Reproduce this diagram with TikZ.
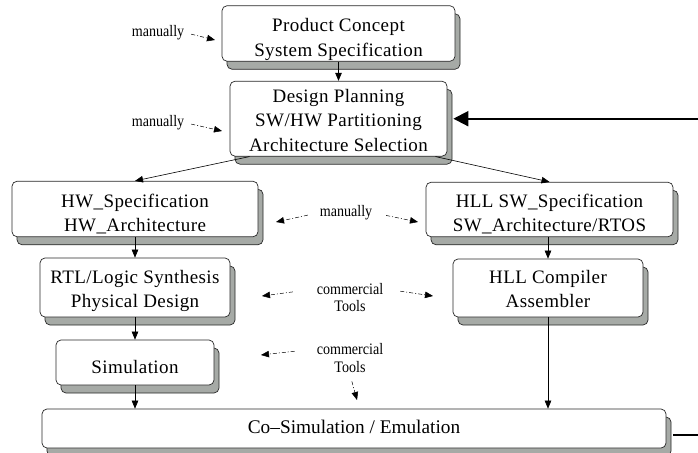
\documentclass[tikz,border=0pt]{standalone}
\usepackage{fontspec}
\setmainfont{Liberation Serif}
\newfontfamily\boxfont[LetterSpace=2.2]{Liberation Serif}
\newfontfamily\notefont[FakeStretch=0.88]{Liberation Serif}
\usetikzlibrary{arrows.meta,shadows,calc}
\definecolor{shadegray}{RGB}{166,170,166}
\definecolor{edge}{RGB}{40,40,40}

\begin{document}
\begin{tikzpicture}[x=1pt,y=-1pt,
  % #1 = height kept above the last baseline (sets where the text sits)
  stage/.style={draw=edge, line width=0.7pt, fill=white, rounded corners=5pt,
    inner sep=0pt, align=center,
    font=\boxfont\fontsize{19}{24.5}\selectfont,
    execute at begin node={\rule{0pt}{#1}},
    execute at end node={\rule[-5pt]{0pt}{0pt}},
    general shadow={shadow xshift=5pt, shadow yshift=-8pt,
      fill=shadegray, draw=edge, line width=0.7pt}},
  stage/.default=26pt,
  note/.style={inner sep=2pt, align=center,
    font=\notefont\fontsize{16}{17.5}\selectfont},
  flow/.style={draw=black, line width=0.6pt, -{Triangle[length=8pt,width=6.5pt]}},
  hint/.style={draw=black, line width=0.5pt,
    dash pattern=on 4pt off 2pt on 1pt off 2pt,
    -{Triangle[length=8pt,width=6.5pt]}},
  feedback/.style={draw=black, line width=2pt, -{Triangle[length=15pt,width=15pt]}}
]
\useasboundingbox (0,0) rectangle (698,452);
\clip (0,0) rectangle (698,452);

% design stages
\node[stage=50.5pt, minimum width=233pt, minimum height=53pt] (concept) at (338.5,33.5)
  {Product Concept\\System Specification};
\node[stage=70pt, minimum width=217pt, minimum height=66pt] (plan) at (338.5,118.7)
  {Design Planning\\SW/HW Partitioning\\Architecture Selection};
\node[stage=50.5pt, minimum width=246pt, minimum height=52pt] (hw) at (135,209)
  {HW\_Specification\\HW\_Architecture};
\node[stage=49.5pt, minimum width=247pt, minimum height=53pt] (sw) at (549.5,209.5)
  {HLL SW\_Specification\\SW\_Architecture/RTOS};
\node[stage=45.5pt, minimum width=190pt, minimum height=59pt] (rtl) at (135,287.5)
  {RTL/Logic Synthesis\\Physical Design};
\node[stage=44.5pt, minimum width=190pt, minimum height=58pt] (comp) at (548,288)
  {HLL Compiler\\Assembler};
\node[stage=26.5pt, minimum width=158pt, minimum height=45pt] (sim) at (135,362.5)
  {Simulation};
\node[stage=14.5pt, minimum width=624pt, minimum height=39pt,
  font=\rmfamily\fontsize{19.3}{22}\selectfont] (cosim) at (354,428.5)
  {Co–Simulation / Emulation};

% main flow
\draw[flow] (concept) -- (plan);
\draw[flow] ([xshift=20pt]plan.south west) -- (hw.north);
\draw[flow] ([xshift=-12pt]plan.south east) -- (sw.north);
\draw[flow] (hw) -- (rtl);
\draw[flow] (rtl) -- (sim);
\draw[flow] (sim.south) -- (sim.south |- cosim.north);
\draw[flow] (comp.north |- sw.south) -- (comp.north);
\draw[flow] (comp.south) -- (comp.south |- cosim.north);

% feedback loop back to planning
\draw[feedback] ([shift={(7pt,-6pt)}]cosim.east) -- ++(40,0) |- ([xshift=6pt]plan.east);

% how each step is carried out
\node[note] (n1) at (158,33) {manually};
\node[note] (n2) at (158,123) {manually};
\node[note] (n3) at (346,213) {manually};
\node[note] (n4) at (350,297.5) {commercial\\Tools};
\node[note] (n5) at (350,358) {commercial\\Tools};

\coordinate (h1) at (215,40);
\coordinate (h2) at (222,131);
\coordinate (h3l) at (276,222);
\coordinate (h3r) at (418,222);
\coordinate (h4l) at (262,296);
\coordinate (h4r) at (433,296);
\coordinate (h5l) at (261,355);
\coordinate (h5d) at (357,400);

\draw[hint, shorten <=5pt] (n1.east) -- (h1);
\draw[hint, shorten <=5pt] (n2.east) -- (h2);
\draw[hint, shorten <=10pt] (n3.west) -- (h3l);
\draw[hint, shorten <=12pt] (n3.east) -- (h3r);
\draw[hint, shorten <=22pt] ([yshift=8.5pt]n4.west) -- (h4l);
\draw[hint, shorten <=15pt] ([yshift=8.5pt]n4.east) -- (h4r);
\draw[hint, shorten <=20pt] ([yshift=9pt]n5.west) -- (h5l);
\draw[hint, shorten <=7pt] (n5.south) -- (h5d);
\end{tikzpicture}
\end{document}
